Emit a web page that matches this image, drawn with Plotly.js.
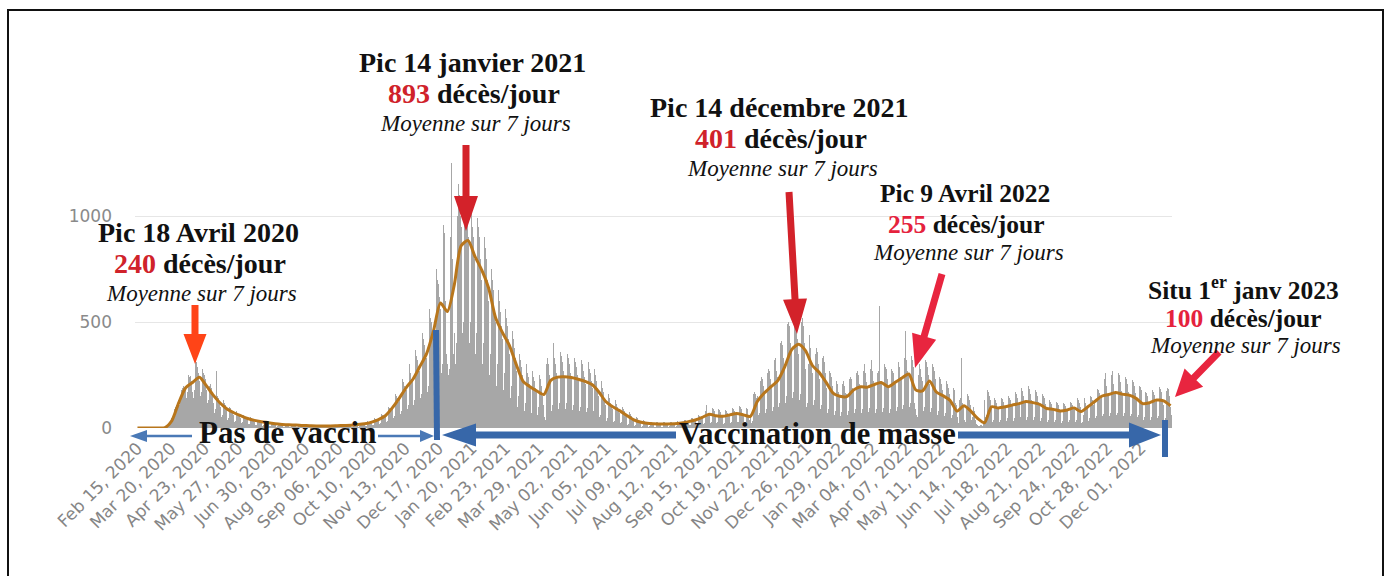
<!DOCTYPE html>
<html>
<head>
<meta charset="utf-8">
<script src="https://cdn.plot.ly/plotly-2.35.2.min.js"></script>
<style>
  html, body { margin:0; padding:0; background:#fff; overflow:hidden; }
  #chart { width:1384px; height:576px; }
  #frame { position:absolute; left:7px; top:9px; width:1373px; height:600px; border:2px solid #111; pointer-events:none; }
</style>
</head>
<body>
<div id="chart"></div>
<div id="frame"></div>
<script>
// ---------- DATA ----------
const startDate = '2020-02-15';

// daily deaths (bars), one row per week (Sat..Fri), from 2020-02-15 to 2023-01-01
const dailyDeaths = [
  0,0,0,0,0,0,0,
  0,0,0,0,0,0,0,
  0,0,0,0,0,0,0,
  0,0,1,1,0,2,1,
  2,3,5,8,10,14,20,
  45,40,60,90,100,110,120,
  130,110,140,180,190,200,180,
  180,140,170,250,240,245,220,
  170,140,180,330,310,290,260,
  220,150,170,280,260,250,230,
  180,120,130,200,210,190,150,
  120,70,90,270,150,140,120,
  100,50,60,130,120,110,95,
  80,40,45,100,95,85,70,
  60,30,35,80,70,65,55,
  45,25,28,62,55,50,42,
  38,18,20,50,45,40,34,
  30,14,16,40,36,33,28,
  25,10,13,34,30,28,22,
  20,8,10,28,25,23,18,
  16,7,8,24,20,18,15,
  14,6,7,20,18,16,13,
  13,5,6,18,16,15,12,
  11,5,6,16,14,13,11,
  10,4,5,15,13,12,10,
  9,4,5,14,12,11,9,
  9,3,4,13,12,11,9,
  9,3,4,13,12,11,9,
  9,4,5,14,13,11,10,
  10,4,5,15,14,12,11,
  11,5,6,17,15,13,12,
  13,6,7,20,18,16,14,
  16,7,9,25,22,20,17,
  20,9,11,32,30,27,23,
  28,12,15,45,42,38,32,
  40,18,22,65,60,55,48,
  60,28,35,100,95,90,80,
  95,45,55,160,150,140,125,
  140,65,80,230,215,200,180,
  180,90,110,300,280,260,230,
  220,110,130,370,340,320,280,
  270,140,160,450,420,390,350,
  330,170,200,560,520,500,450,
  420,210,250,750,700,680,620,
  560,260,300,960,920,600,350,
  300,250,280,900,1250,800,350,
  450,300,400,1000,1150,1100,1000,
  950,450,500,1100,1200,1150,1050,
  900,400,500,1000,1050,950,900,
  800,350,450,990,950,900,800,
  700,300,400,900,850,800,700,
  600,250,350,750,700,650,550,
  500,200,300,650,600,550,480,
  420,180,260,560,520,480,420,
  350,140,200,460,420,380,330,
  270,100,150,350,320,290,250,
  220,80,120,300,260,240,210,
  200,70,110,270,240,220,190,
  180,60,100,250,230,200,150,
  110,50,40,300,330,300,250,
  230,80,110,400,330,300,260,
  240,90,120,360,340,310,270,
  240,90,120,350,330,300,260,
  230,85,110,330,310,290,250,
  220,80,100,320,300,270,240,
  210,75,95,310,280,260,220,
  190,60,80,280,250,220,190,
  150,50,60,220,190,170,140,
  110,35,45,160,140,120,100,
  90,28,35,130,115,100,85,
  70,22,28,100,90,80,65,
  50,15,20,75,65,55,45,
  35,10,12,50,45,40,32,
  25,7,9,36,32,28,22,
  21,6,8,30,28,25,20,
  19,5,7,28,27,24,19,
  19,5,7,28,26,24,19,
  19,6,8,29,27,24,20,
  21,7,9,32,30,27,22,
  25,9,11,38,36,32,27,
  32,12,14,48,45,40,34,
  40,15,18,60,56,50,42,
  52,20,24,80,110,68,56,
  62,25,30,95,88,80,65,
  58,22,26,90,85,75,60,
  55,20,25,85,80,72,58,
  60,24,28,95,90,80,65,
  66,26,30,105,98,88,72,
  62,24,28,95,88,60,40,
  50,25,35,160,170,160,140,
  150,60,70,220,240,230,200,
  170,70,90,260,280,270,230,
  200,80,100,320,330,310,270,
  240,100,120,400,410,390,330,
  300,120,150,490,500,480,400,
  360,140,170,520,540,510,420,
  350,130,160,500,520,480,400,
  280,100,120,300,440,380,300,
  260,110,130,350,380,360,300,
  230,90,110,330,340,310,260,
  190,70,90,270,260,240,200,
  160,60,80,220,230,210,170,
  150,55,75,210,220,200,165,
  160,60,80,230,240,230,190,
  180,70,90,260,270,250,210,
  190,70,90,270,300,260,215,
  195,75,95,280,320,270,220,
  200,70,90,260,270,575,220,
  210,75,95,300,290,280,230,
  200,70,90,280,270,260,220,
  210,80,100,300,310,290,240,
  230,90,110,330,460,320,270,
  260,100,120,340,320,290,120,
  90,60,50,250,300,280,240,
  220,80,100,320,310,290,250,
  210,75,95,300,290,270,230,
  170,60,80,240,230,210,180,
  150,55,70,220,210,190,160,
  130,45,60,190,180,120,110,
  50,25,35,130,140,330,120,
  110,40,30,90,160,150,130,
  110,40,50,100,80,40,20,
  15,8,10,15,12,10,20,
  130,50,60,180,170,150,130,
  90,30,40,140,130,120,100,
  95,30,40,140,135,125,105,
  100,35,45,150,140,130,110,
  105,35,45,170,160,140,115,
  115,40,50,190,175,150,125,
  120,40,50,200,185,160,130,
  115,40,50,180,170,150,125,
  105,35,45,160,150,140,115,
  90,30,40,130,125,115,95,
  85,28,38,125,120,110,90,
  80,25,35,120,115,105,85,
  85,28,38,125,120,110,90,
  95,30,40,140,130,120,100,
  80,25,30,60,140,120,95,
  100,35,45,150,145,130,110,
  125,45,55,185,180,165,135,
  150,55,65,230,260,200,160,
  158,55,70,250,270,210,170,
  165,60,70,260,250,215,175,
  160,55,70,240,230,210,170,
  150,55,65,225,215,200,165,
  135,50,60,200,195,180,145,
  115,40,50,170,165,150,120,
  120,40,50,180,170,155,125,
  130,45,55,195,185,170,135,
  110,40,45,175,190,185,150,
  100,60
];

// 7-day average, read once a week (every 7 days from 2020-02-15)
const weeklyAverage = [
  0,0,0,0,2,35,120,190,215,240,
  200,155,118,90,72,58,45,36,30,25,
  20,17,15,14,12,11,10,10,10,11,
  12,13,16,20,28,40,58,95,140,190,
  230,290,352,460,590,550,675,860,885,810,
  745,660,520,450,390,300,220,195,175,158,
  225,240,242,238,230,220,205,170,125,100,
  82,60,40,28,22,20,19,19,20,24,
  30,38,50,65,58,55,62,68,62,55,
  125,165,195,225,290,370,395,365,295,262,
  215,165,150,148,180,195,193,205,215,195,
  215,236,255,180,175,222,170,152,130,80,
  105,80,45,25,100,95,100,108,115,125,
  120,112,92,88,80,85,95,78,100,125,
  150,158,168,160,155,140,115,120,132,128,
  105
];

const tickDates = ['2020-02-15','2020-03-20','2020-04-23','2020-05-27','2020-06-30','2020-08-03',
  '2020-09-06','2020-10-10','2020-11-13','2020-12-17','2021-01-20','2021-02-23','2021-03-29',
  '2021-05-02','2021-06-05','2021-07-09','2021-08-12','2021-09-15','2021-10-19','2021-11-22',
  '2021-12-26','2022-01-29','2022-03-04','2022-04-07','2022-05-11','2022-06-14','2022-07-18',
  '2022-08-21','2022-09-24','2022-10-28','2022-12-01'];
const tickLabels = ['Feb 15, 2020','Mar 20, 2020','Apr 23, 2020','May 27, 2020','Jun 30, 2020','Aug 03, 2020',
  'Sep 06, 2020','Oct 10, 2020','Nov 13, 2020','Dec 17, 2020','Jan 20, 2021','Feb 23, 2021','Mar 29, 2021',
  'May 02, 2021','Jun 05, 2021','Jul 09, 2021','Aug 12, 2021','Sep 15, 2021','Oct 19, 2021','Nov 22, 2021',
  'Dec 26, 2021','Jan 29, 2022','Mar 04, 2022','Apr 07, 2022','May 11, 2022','Jun 14, 2022','Jul 18, 2022',
  'Aug 21, 2022','Sep 24, 2022','Oct 28, 2022','Dec 01, 2022'];
const yTicks = [0, 500, 1000];

// ---------- BUILD ----------
function addDays(s, n) {
  const d = new Date(s + 'T00:00:00Z');
  d.setUTCDate(d.getUTCDate() + n);
  return d.toISOString().slice(0, 10);
}
const barDates = dailyDeaths.map((_, i) => addDays(startDate, i));
const avgDates = weeklyAverage.map((_, i) => addDays(startDate, i * 7));

// plot area in pixels
const PL = 135, PR = 1172, PT = 159, PB = 428;
const W = 1384, H = 576;
const px = x => (x - PL) / (PR - PL);
const py = y => (PB - y) / (PB - PT);

const SERIF = 'Liberation Serif, Times New Roman, serif';
const annotations = [];
function txt(x, y, text, size) {
  annotations.push({xref:'paper', yref:'paper', x:px(x), y:py(y), xanchor:'center', yanchor:'middle',
    text:text, showarrow:false, font:{family:SERIF, size:size, color:'#111'}});
}
function group(x, y, title, num, numColor, size) {
  txt(x, y, '<b>' + title + '</b>', size);
  txt(x + 2, y + 31, '<b><span style="color:' + numColor + '">' + num + '</span> décès/jour</b>', size);
  txt(x + 3, y + 61, '<i>Moyenne sur 7 jours</i>', 23);
}
const RED1 = '#d0222a', RED2 = '#e5223d';
group(198, 232, 'Pic 18 Avril 2020', '240', RED1, 28);
group(472, 62, 'Pic 14 janvier 2021', '893', RED1, 28);
group(779, 107, 'Pic 14 décembre 2021', '401', RED1, 28);
txt(965, 193, '<b>Pic 9 Avril 2022</b>', 25.5);
txt(966, 224, '<b><span style="color:' + RED2 + '">255</span> décès/jour</b>', 25.5);
txt(968, 252, '<i>Moyenne sur 7 jours</i>', 23);
txt(1243, 288, '<b>Situ 1<sup>er</sup> janv 2023</b>', 25.5);
txt(1243, 318, '<b><span style="color:' + RED2 + '">100</span> décès/jour</b>', 25.5);
txt(1245, 345, '<i>Moyenne sur 7 jours</i>', 23);
txt(287, 432, '<b>Pas de vaccin</b>', 31);
txt(817, 434, '<b>Vaccination de masse</b>', 30.5);

const shapes = [];
function arrow(x0, y0, x1, y1, w, hl, hw, color) {
  const L = Math.hypot(x1 - x0, y1 - y0);
  const ux = (x1 - x0) / L, uy = (y1 - y0) / L;
  const nx = -uy, ny = ux;
  const bx = x1 - ux * hl, by = y1 - uy * hl;
  const pts = [
    [x0 + nx * w / 2, y0 + ny * w / 2],
    [bx + nx * w / 2, by + ny * w / 2],
    [bx + nx * hw / 2, by + ny * hw / 2],
    [x1, y1],
    [bx - nx * hw / 2, by - ny * hw / 2],
    [bx - nx * w / 2, by - ny * w / 2],
    [x0 - nx * w / 2, y0 - ny * w / 2]
  ];
  const path = 'M' + pts.map(p => px(p[0]).toFixed(5) + ',' + py(p[1]).toFixed(5)).join(' L') + ' Z';
  shapes.push({type:'path', xref:'paper', yref:'paper', path:path, fillcolor:color, line:{width:0}, layer:'above'});
}
function bar(x0, y0, x1, y1, w, color) {
  shapes.push({type:'line', xref:'paper', yref:'paper', x0:px(x0), y0:py(y0), x1:px(x1), y1:py(y1),
    line:{color:color, width:w}, layer:'above'});
}
// peak arrows
arrow(195, 305, 195, 364, 7, 30, 23, '#ff4417');
arrow(466, 145, 466, 231, 7, 35, 24, '#d3222a');
arrow(789, 192, 797, 334, 7, 35, 24, '#d3222a');
arrow(942, 274, 915, 368, 7, 33, 25, '#e8253f');
arrow(1219, 352, 1175, 397, 7, 27, 26, '#e8253f');
// vaccination arrows
const BLUE = '#3767a9';
arrow(192, 436, 130, 436, 2.5, 17, 12, '#4a79b6');
arrow(378, 436, 434, 436, 2.5, 14, 12, '#4a79b6');
bar(436, 330, 437, 440, 6, BLUE);
arrow(676, 435, 442, 435, 7, 34, 23, BLUE);
arrow(958, 435, 1161, 435, 7, 32, 25, BLUE);
bar(1165, 420, 1165, 457, 6, BLUE);

const traces = [
  {type:'bar', x:barDates, y:dailyDeaths, marker:{color:'#a7a7a7', line:{width:0}}, hoverinfo:'skip'},
  {type:'scatter', mode:'lines', x:avgDates, y:weeklyAverage,
   line:{color:'#b8761c', width:3, shape:'spline', smoothing:0.7}, hoverinfo:'skip'}
];

const layout = {
  width:W, height:H,
  margin:{l:PL, r:W - PR, t:PT, b:H - PB, pad:0},
  paper_bgcolor:'#fff', plot_bgcolor:'#fff',
  showlegend:false, bargap:0,
  xaxis:{type:'date', range:['2020-02-12 12:00','2023-01-01 12:00'],
    tickmode:'array', tickvals:tickDates, ticktext:tickLabels, tickangle:-45,
    tickfont:{family:'DejaVu Sans, Verdana, sans-serif', size:17, color:'#858585'},
    showgrid:false, zeroline:false, showline:false, ticks:'', ticklabelstandoff:6},
  yaxis:{range:[0,1270], tickmode:'array', tickvals:yTicks, ticktext:yTicks.map(String),
    tickfont:{family:'DejaVu Sans, Verdana, sans-serif', size:17, color:'#8a8a8a'},
    showgrid:true, gridcolor:'#e6e6e6', gridwidth:1, zeroline:false, showline:false, ticks:'',
    ticklabelstandoff:22},
  annotations:annotations,
  shapes:shapes
};
Plotly.newPlot('chart', traces, layout, {staticPlot:true, displayModeBar:false});
</script>
</body>
</html>
